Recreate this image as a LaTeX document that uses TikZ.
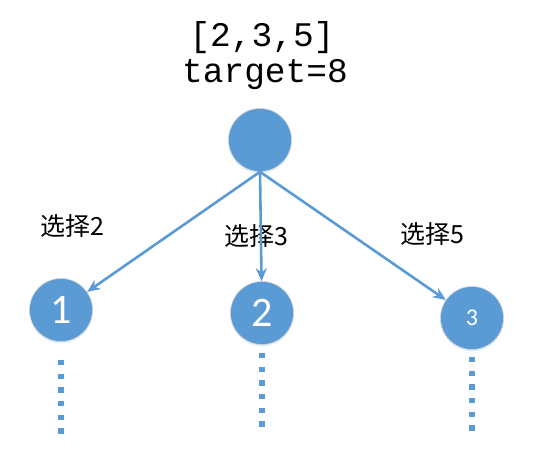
\documentclass[tikz,border=0pt]{standalone}
\usepackage{fontspec}
\usepackage{xcolor}
\newfontfamily\cjk{Noto Sans CJK SC}
\newfontfamily\codefont{Liberation Mono}
\newfontfamily\numfont{Carlito}
\usetikzlibrary{arrows.meta,shadows}
\definecolor{nodeblue}{HTML}{5B9BD5}

\begin{document}
\begin{tikzpicture}[x=1pt,y=-1pt,->,>={Stealth[length=13pt,width=11pt]},line width=2.6pt,draw=nodeblue,
    main node/.style={circle,fill=nodeblue,draw=gray!35,line width=0.6pt,minimum size=63pt,inner sep=0pt,text=white,
      font=\numfont\fontsize{42}{42}\selectfont,drop shadow={shadow xshift=0pt,shadow yshift=-2pt,opacity=0.15,fill=nodeblue}},
    choice/.style={font=\cjk\fontsize{25}{25}\selectfont},
    title/.style={font=\codefont\fontsize{34.5}{34.5}\selectfont},
    dots/.style={-,draw=nodeblue,line width=5.5pt,dash pattern=on 5.5pt off 8.2pt}]
    \useasboundingbox (0,0) rectangle (544,456);
    \node[title] (list) at (262,38) {[2,3,5]};
    \node[title] (tgt) at (265,75) {target=8};
    \node[main node] (0) at (260,140) {};
    \node[main node] (1) at (61,310) {1};
    \node[main node] (2) at (262,313) {2};
    \node[main node,font=\numfont\fontsize{24}{24}\selectfont] (3) at (472,318) {3};
    \node[choice] (c1) at (72,226) {选择2};
    \node[choice] (c2) at (256,236) {选择3};
    \node[choice] (c3) at (432,234) {选择5};
    \draw (0.south) -- (1);
    \draw (0.south) -- (2);
    \draw (0.south) -- (3);
    % further levels
    \draw[dots] (1.south) ++(0,18) -- ++(0,74);
    \draw[dots] (2.south) ++(0,8) -- ++(0,74);
    \draw[dots] (3.south) ++(0,7) -- ++(0,74);
  \end{tikzpicture}
\end{document}
